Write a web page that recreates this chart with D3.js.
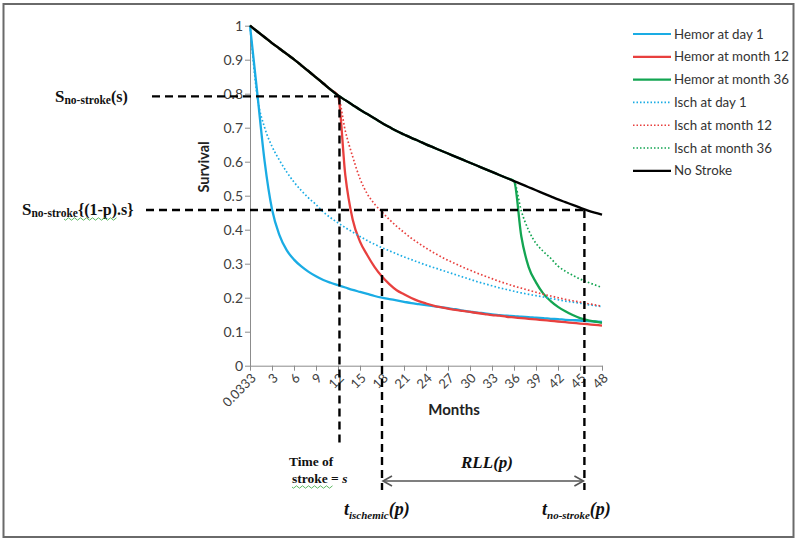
<!DOCTYPE html>
<html><head><meta charset="utf-8">
<script src="https://cdn.jsdelivr.net/npm/d3@7"></script>
<style>
body{margin:0;background:#fff;}
svg{display:block;font-family:Lato,"Open Sans",sans-serif;}
</style></head>
<body><svg id="c" width="800" height="542"></svg>
<script>
// ---------- DATA ----------
const months = ["0.0333"].concat(d3.range(1, 49).map(String)); // 49 categories
const xTickLabels = ["0.0333","3","6","9","12","15","18","21","24","27","30","33","36","39","42","45","48"];
const yTicks = [0,0.1,0.2,0.3,0.4,0.5,0.6,0.7,0.8,0.9,1];
const yTickLabels = ["0","0.1","0.2","0.3","0.4","0.5","0.6","0.7","0.8","0.9","1"];

const noStroke = [1.000,0.983,0.966,0.949,0.933,0.917,0.901,0.883,0.866,0.848,0.830,0.812,0.795,
  0.781,0.767,0.753,0.740,0.727,0.714,0.702,0.690,0.680,0.670,0.661,0.651,0.642,0.633,0.624,
  0.615,0.606,0.597,0.588,0.579,0.570,0.561,0.552,0.543,0.534,0.525,0.516,0.507,0.498,0.489,
  0.481,0.473,0.465,0.457,0.450,0.444];
const hemorDay1 = [1.000,0.800,0.600,0.460,0.385,0.340,0.312,0.292,0.276,0.263,0.252,0.244,0.237,
  0.230,0.223,0.217,0.211,0.205,0.200,0.196,0.192,0.188,0.184,0.181,0.178,0.175,0.172,0.169,
  0.166,0.162,0.159,0.156,0.154,0.151,0.149,0.147,0.146,0.144,0.143,0.141,0.140,0.138,0.137,
  0.135,0.134,0.133,0.131,0.130,0.129];
// values from the month of stroke onward (month 12 / month 36)
const hemorM12From12 = [0.795,0.560,0.430,0.365,0.325,0.290,0.262,0.240,0.222,0.210,0.199,0.190,
  0.183,0.177,0.172,0.168,0.164,0.161,0.158,0.155,0.152,0.149,0.147,0.144,0.142,0.140,0.138,
  0.136,0.134,0.132,0.130,0.128,0.126,0.124,0.122,0.120,0.118];
const hemorM36From36 = [0.543,0.380,0.290,0.245,0.212,0.190,0.173,0.160,0.149,0.140,0.134,0.130,0.126];
const ischDay1 = [1.000,0.790,0.700,0.645,0.605,0.570,0.540,0.515,0.493,0.474,0.452,0.435,0.420,
  0.406,0.393,0.380,0.368,0.357,0.347,0.338,0.329,0.320,0.312,0.304,0.296,0.289,0.282,0.275,
  0.268,0.261,0.254,0.247,0.241,0.235,0.229,0.224,0.219,0.214,0.210,0.206,0.202,0.198,0.194,
  0.190,0.187,0.184,0.180,0.177,0.174];
const ischM12From12 = [0.795,0.690,0.615,0.550,0.505,0.475,0.452,0.430,0.410,0.392,0.375,0.360,
  0.346,0.333,0.321,0.310,0.300,0.290,0.281,0.272,0.264,0.256,0.248,0.241,0.234,0.228,0.222,
  0.216,0.210,0.205,0.200,0.195,0.191,0.187,0.183,0.179,0.175];
const ischM36From36 = [0.543,0.455,0.398,0.360,0.336,0.316,0.293,0.278,0.266,0.255,0.246,0.238,0.230];

const seriesNames = ["Hemor at day 1","Hemor at month 12","Hemor at month 36","Isch at day 1","Isch at month 12","Isch at month 36","No Stroke"];
const seriesColors = ["#1aace4","#e8403e","#13a552","#1aace4","#e8403e","#13a552","#000000"];
const seriesDotted = [false,false,false,true,true,true,false];
const seriesValues = [
  hemorDay1,
  noStroke.slice(0,12).concat(hemorM12From12),
  noStroke.slice(0,36).concat(hemorM36From36),
  ischDay1,
  noStroke.slice(0,12).concat(ischM12From12),
  noStroke.slice(0,36).concat(ischM36From36),
  noStroke
];

// annotation reference values (data units)
const strokeMonth = 12.2, ischMonth = 18, noStrokeMonth = 45.6;
const sAtStroke = 0.792, sAtP = 0.458;

// ---------- CHART ----------
const svg = d3.select("#c");
svg.append("rect").attr("x",3.5).attr("y",4).attr("width",790).attr("height",533)
  .attr("fill","none").attr("stroke","#6a6a6a").attr("stroke-width",2);

const x = d3.scalePoint().domain(months).range([250,602]);
const xi = d3.scaleLinear().domain([0,48]).range([250,602]);
const y = d3.scaleLinear().domain([0,1]).range([365.7,25.7]);

const axisColor = "#8c8c8c", labelColor = "#404040";
const gx = svg.append("g").attr("transform","translate(0,365.7)")
  .call(d3.axisBottom(x).tickValues(xTickLabels).tickSize(5).tickSizeOuter(0));
gx.selectAll("text").attr("text-anchor","end").attr("font-size",13).attr("fill",labelColor)
  .attr("font-family","Lato,sans-serif")
  .attr("transform","translate(3,10) rotate(-45)").attr("dy","0.35em").attr("y",0).attr("x",0);
const gy = svg.append("g").attr("transform","translate(250,0)")
  .call(d3.axisLeft(y).tickValues(yTicks).tickFormat((d,i)=>yTickLabels[i]).tickSize(5).tickSizeOuter(0));
gy.selectAll("text").attr("font-size",14).attr("fill",labelColor).attr("font-family","Lato,sans-serif").attr("x",-7);
svg.selectAll(".domain, .tick line").attr("stroke",axisColor);

svg.append("text").attr("transform","translate(209,167) rotate(-90)").attr("text-anchor","middle")
  .attr("font-size",14.5).attr("font-weight","bold").attr("fill","#222").text("Survival");
svg.append("text").attr("x",454).attr("y",415).attr("text-anchor","middle")
  .attr("font-size",15).attr("font-weight","bold").attr("fill","#222").text("Months");

const line = d3.line().x((d,i)=>x(months[i])).y(d=>y(d)).curve(d3.curveMonotoneX);
seriesValues.forEach((vals,k)=>{
  svg.append("path").attr("d",line(vals)).attr("fill","none")
    .attr("stroke",seriesColors[k]).attr("stroke-width",seriesDotted[k]?1.7:2.3)
    .attr("stroke-dasharray",seriesDotted[k]?"1.6,2.2":null).attr("stroke-linejoin","round");
});

// legend
const lg = svg.append("g");
seriesNames.forEach((n,k)=>{
  const yy = 34 + k*22.8;
  lg.append("line").attr("x1",633).attr("x2",671).attr("y1",yy).attr("y2",yy)
    .attr("stroke",seriesColors[k]).attr("stroke-width",seriesDotted[k]?1.6:2.2)
    .attr("stroke-dasharray",seriesDotted[k]?"1.5,2":null);
  lg.append("text").attr("x",674).attr("y",yy).attr("dy","0.35em").attr("font-size",13.3)
    .attr("fill","#333").text(n);
});

// annotations
const dash = "8,5";
const ann = svg.append("g").attr("stroke","#000").attr("stroke-width",2.4).attr("stroke-dasharray",dash).attr("fill","none");
ann.append("line").attr("x1",152).attr("x2",xi(strokeMonth)).attr("y1",y(sAtStroke)).attr("y2",y(sAtStroke));
ann.append("line").attr("x1",xi(strokeMonth)).attr("x2",xi(strokeMonth)).attr("y1",y(sAtStroke)).attr("y2",446);
ann.append("line").attr("x1",146).attr("x2",xi(noStrokeMonth)).attr("y1",y(sAtP)).attr("y2",y(sAtP));
ann.append("line").attr("x1",xi(ischMonth)).attr("x2",xi(ischMonth)).attr("y1",y(sAtP)).attr("y2",490);
ann.append("line").attr("x1",xi(noStrokeMonth)).attr("x2",xi(noStrokeMonth)).attr("y1",y(sAtP)).attr("y2",490);

// double arrow
const ay = 481, ax1 = xi(ischMonth)+1, ax2 = xi(noStrokeMonth)-1;
const arr = svg.append("g").attr("stroke","#555").attr("stroke-width",1.6).attr("fill","none");
arr.append("line").attr("x1",ax1).attr("x2",ax2).attr("y1",ay).attr("y2",ay);
arr.append("path").attr("d",`M${ax1+9},${ay-5}L${ax1},${ay}L${ax1+9},${ay+5}`);
arr.append("path").attr("d",`M${ax2-9},${ay-5}L${ax2},${ay}L${ax2-9},${ay+5}`);

const serif = "'Liberation Serif','DejaVu Serif',serif";
function sLabel(x0, yb, tail){
  const t = svg.append("text").attr("x",x0).attr("y",yb).attr("font-family",serif).attr("font-weight","bold").attr("fill","#111");
  t.append("tspan").attr("font-size",17).text("S");
  t.append("tspan").attr("font-size",11.5).attr("dy",2).text("no-stroke");
  t.append("tspan").attr("font-size",16).attr("dy",-2).text(tail);
  return t;
}
sLabel(55,102,"(s)");
sLabel(22,215,"{(1-p).s}");

function wavy(x0,x1,yy){
  let d = `M${x0},${yy}`;
  for(let xx=x0; xx<x1; xx+=3){ d += `L${xx+1.5},${yy+ ((xx-x0)/3%2?-1.2:1.2)}`; }
  svg.append("path").attr("d",d).attr("fill","none").attr("stroke","#4caf50").attr("stroke-width",0.9);
}
wavy(64,118,219);

svg.append("text").attr("x",487).attr("y",468).attr("text-anchor","middle").attr("font-family",serif)
  .attr("font-weight","bold").attr("font-style","italic").attr("font-size",17).attr("fill","#111").text("RLL(p)");
svg.append("text").attr("x",289).attr("y",466).attr("font-family",serif).attr("font-weight","bold")
  .attr("font-size",13.5).attr("fill","#111").text("Time of");
const st = svg.append("text").attr("x",292).attr("y",483).attr("font-family",serif).attr("font-weight","bold")
  .attr("font-size",13.5).attr("fill","#111");
st.append("tspan").text("stroke = ");
st.append("tspan").attr("font-style","italic").text("s");
wavy(292,332,487);

function tLabel(x0, yb, sub){
  const t = svg.append("text").attr("x",x0).attr("y",yb).attr("font-family",serif).attr("font-weight","bold")
    .attr("font-style","italic").attr("fill","#111");
  t.append("tspan").attr("font-size",18).text("t");
  t.append("tspan").attr("font-size",11).attr("dy",4).text(sub);
  t.append("tspan").attr("font-size",18).attr("dy",-4).text("(p)");
}
tLabel(344,515,"ischemic");
tLabel(542,515,"no-stroke");
</script></body></html>
